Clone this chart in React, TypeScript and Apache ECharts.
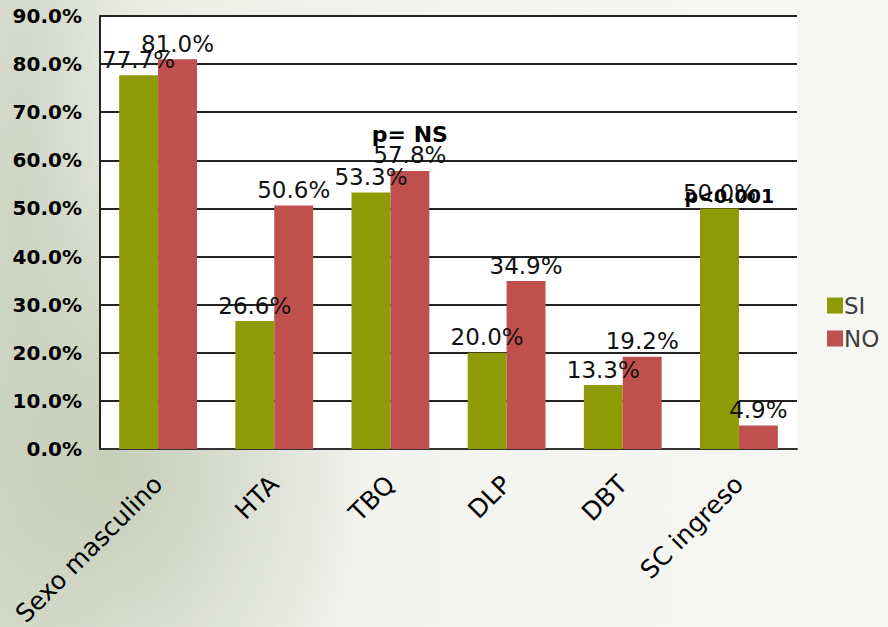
import React, { useEffect, useRef } from "react";
import * as echarts from "echarts";

const categories = ["Sexo masculino", "HTA", "TBQ", "DLP", "DBT", "SC ingreso"];
const siValues = [77.7, 26.6, 53.3, 20.0, 13.3, 50.0];
const noValues = [81.0, 50.6, 57.8, 34.9, 19.2, 4.9];
const annotations = [
  { category: "TBQ", value: 65.3, text: "p= NS" },
  { category: "SC ingreso", value: 52.5, text: "p<0.001" },
];

export default function App() {
  const ref = useRef<HTMLDivElement>(null);
  useEffect(() => {
    if (!ref.current) return;
    const chart = echarts.init(ref.current, null, { renderer: "svg" });
    const font = "DejaVu Sans";
    chart.setOption({
      animation: false,
      grid: {
        left: 100,
        right: 91,
        top: 16,
        bottom: 178,
        show: true,
        backgroundColor: "#ffffff",
        borderWidth: 0,
        containLabel: false,
        outerBoundsMode: "none",
      },
      legend: {
        orient: "vertical",
        left: 822,
        top: 289,
        itemWidth: 16,
        itemHeight: 16,
        itemGap: 10,
        icon: "rect",
        textStyle: {
          fontFamily: font,
          fontSize: 23,
          lineHeight: 16,
          color: "#404040",
          padding: [0, 0, 0, -4],
        },
        data: ["SI", "NO"],
      },
      xAxis: {
        type: "category",
        data: categories,
        axisLine: { show: true, lineStyle: { color: "#333", width: 2 } },
        axisTick: { show: false },
        axisLabel: {
          rotate: 45,
          margin: 31,
          fontFamily: font,
          fontSize: 25,
          color: "#000",
          interval: 0,
        },
      },
      yAxis: {
        type: "value",
        min: 0,
        max: 90,
        interval: 10,
        axisLine: { show: true, lineStyle: { color: "#222", width: 2 } },
        axisTick: { show: false },
        splitLine: { show: true, lineStyle: { color: "#222", width: 2 } },
        axisLabel: {
          margin: 18,
          fontFamily: font,
          fontWeight: "bold",
          fontSize: 20,
          color: "#000",
          formatter: (v: number) => v.toFixed(1) + "%",
        },
      },
      series: [
        {
          name: "SI",
          type: "bar",
          data: siValues,
          barGap: "0%",
          barCategoryGap: "33%",
          itemStyle: { color: "#8e9b07" },
          label: {
            show: true,
            position: "top",
            distance: 4,
            fontFamily: font,
            fontSize: 23,
            color: "#111",
            formatter: (p: any) => p.value.toFixed(1) + "%",
          },
        },
        {
          name: "NO",
          type: "bar",
          data: noValues,
          itemStyle: { color: "#c0504d" },
          label: {
            show: true,
            position: "top",
            distance: 4,
            fontFamily: font,
            fontSize: 23,
            color: "#111",
            formatter: (p: any) => p.value.toFixed(1) + "%",
          },
          markPoint: {
            symbol: "circle",
            symbolSize: 0,
            silent: true,
            label: {
              show: true,
              position: "inside",
              fontFamily: font,
              fontWeight: "bold",
              fontSize: 22,
              color: "#000",
              formatter: (p: any) => p.name,
            },
            data: annotations.map((a, i) => ({
              name: a.text,
              coord: [a.category, a.value],
              label: i === 1 ? { fontSize: 19, offset: [-29, 0] } : {},
            })),
          },
        },
      ],
    });
    return () => chart.dispose();
  }, []);
  return (
    <div
      style={{
        position: "fixed",
        left: 0,
        top: 0,
        width: 888,
        height: 627,
        background:
          "radial-gradient(ellipse 260px 330px at 110px 470px, rgba(196,204,182,0.95), rgba(196,204,182,0) 100%), radial-gradient(ellipse 120px 700px at 20px 200px, rgba(205,211,194,0.9), rgba(205,211,194,0) 100%), linear-gradient(90deg, #e6e9df 0%, #f3f3ef 45%, #f7f7f4 100%)",
      }}
    >
      <div ref={ref} style={{ width: 888, height: 627 }} />
    </div>
  );
}
